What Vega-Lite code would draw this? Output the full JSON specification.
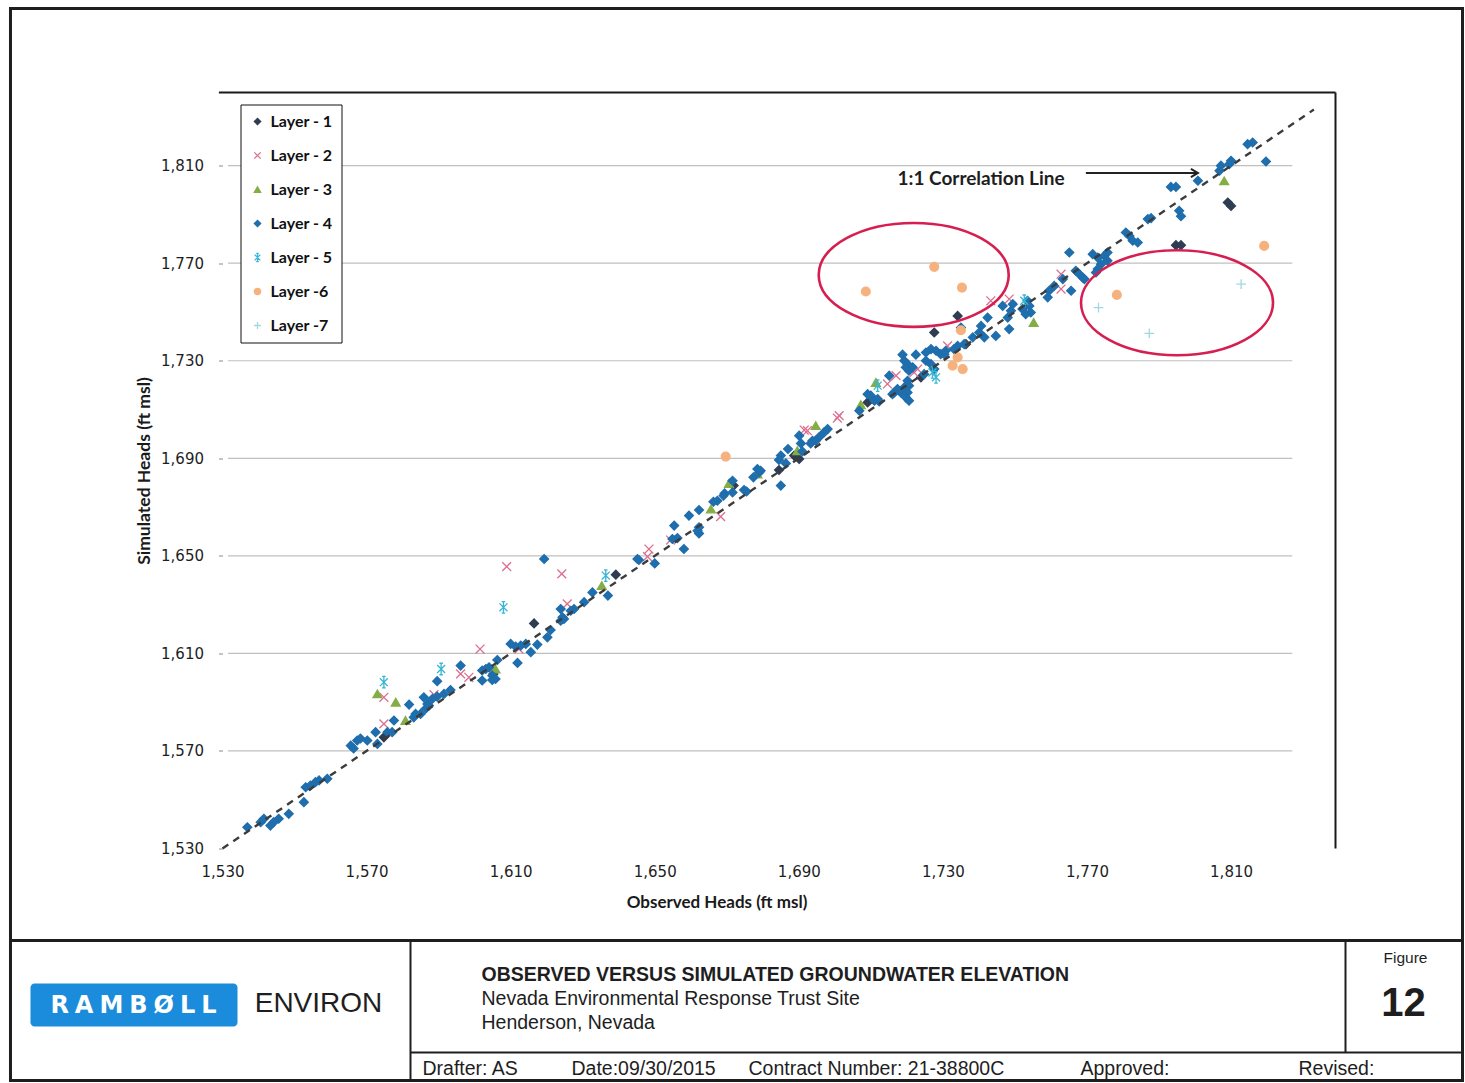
{
  "$schema": "https://vega.github.io/schema/vega-lite/v6.json",
  "width": 1113,
  "height": 756,
  "autosize": {"type": "pad"},
  "padding": {"left": 8.5, "top": 6.5, "right": 2, "bottom": 2},
  "background": "#ffffff",
  "config": {
    "view": {"stroke": null},
    "legend": {
      "orient": "none", "legendX": 18, "legendY": 12,
      "padding": 9, "rowPadding": 18,
      "strokeColor": "#111111", "fillColor": "#ffffff",
      "labelFont": "Lato", "labelFontSize": 16, "labelFontWeight": "bold", "labelColor": "#111111",
      "labelOffset": 5, "symbolSize": 40, "symbolStrokeWidth": 1.3
    }
  },
  "datasets": {
    "gridlines": [
      {"level": 1570}, {"level": 1610}, {"level": 1650}, {"level": 1690},
      {"level": 1730}, {"level": 1770}, {"level": 1810}
    ],
    "heads": [
      {"observed": 1574.8, "simulated": 1575.6, "layer": "Layer - 1"},
      {"observed": 1616.5, "simulated": 1622.3, "layer": "Layer - 1"},
      {"observed": 1605.2, "simulated": 1601.6, "layer": "Layer - 1"},
      {"observed": 1684.5, "simulated": 1685.2, "layer": "Layer - 1"},
      {"observed": 1671.9, "simulated": 1678.8, "layer": "Layer - 1"},
      {"observed": 1639.2, "simulated": 1642.3, "layer": "Layer - 1"},
      {"observed": 1727.6, "simulated": 1741.6, "layer": "Layer - 1"},
      {"observed": 1736.4, "simulated": 1736.8, "layer": "Layer - 1"},
      {"observed": 1709.1, "simulated": 1712.9, "layer": "Layer - 1"},
      {"observed": 1723.9, "simulated": 1723.2, "layer": "Layer - 1"},
      {"observed": 1688.7, "simulated": 1691.1, "layer": "Layer - 1"},
      {"observed": 1690.1, "simulated": 1689.7, "layer": "Layer - 1"},
      {"observed": 1734.1, "simulated": 1748.4, "layer": "Layer - 1"},
      {"observed": 1794.7, "simulated": 1777.4, "layer": "Layer - 1"},
      {"observed": 1796.1, "simulated": 1777.4, "layer": "Layer - 1"},
      {"observed": 1809.1, "simulated": 1794.9, "layer": "Layer - 1"},
      {"observed": 1810.0, "simulated": 1793.5, "layer": "Layer - 1"},

      {"observed": 1574.8, "simulated": 1581.1, "layer": "Layer - 2"},
      {"observed": 1574.8, "simulated": 1592.0, "layer": "Layer - 2"},
      {"observed": 1608.9, "simulated": 1645.6, "layer": "Layer - 2"},
      {"observed": 1624.2, "simulated": 1642.6, "layer": "Layer - 2"},
      {"observed": 1625.7, "simulated": 1630.3, "layer": "Layer - 2"},
      {"observed": 1601.5, "simulated": 1611.8, "layer": "Layer - 2"},
      {"observed": 1612.3, "simulated": 1611.8, "layer": "Layer - 2"},
      {"observed": 1596.1, "simulated": 1601.6, "layer": "Layer - 2"},
      {"observed": 1598.4, "simulated": 1600.2, "layer": "Layer - 2"},
      {"observed": 1588.7, "simulated": 1593.1, "layer": "Layer - 2"},
      {"observed": 1668.3, "simulated": 1666.1, "layer": "Layer - 2"},
      {"observed": 1654.4, "simulated": 1656.5, "layer": "Layer - 2"},
      {"observed": 1648.4, "simulated": 1652.8, "layer": "Layer - 2"},
      {"observed": 1648.0, "simulated": 1649.7, "layer": "Layer - 2"},
      {"observed": 1731.3, "simulated": 1736.1, "layer": "Layer - 2"},
      {"observed": 1722.0, "simulated": 1725.2, "layer": "Layer - 2"},
      {"observed": 1723.0, "simulated": 1726.6, "layer": "Layer - 2"},
      {"observed": 1717.0, "simulated": 1723.9, "layer": "Layer - 2"},
      {"observed": 1714.6, "simulated": 1720.5, "layer": "Layer - 2"},
      {"observed": 1701.2, "simulated": 1707.5, "layer": "Layer - 2"},
      {"observed": 1700.7, "simulated": 1706.5, "layer": "Layer - 2"},
      {"observed": 1692.4, "simulated": 1701.3, "layer": "Layer - 2"},
      {"observed": 1691.5, "simulated": 1701.6, "layer": "Layer - 2"},
      {"observed": 1762.8, "simulated": 1765.5, "layer": "Layer - 2"},
      {"observed": 1762.8, "simulated": 1759.4, "layer": "Layer - 2"},
      {"observed": 1748.4, "simulated": 1755.3, "layer": "Layer - 2"},
      {"observed": 1743.3, "simulated": 1754.6, "layer": "Layer - 2"},

      {"observed": 1573.0, "simulated": 1593.4, "layer": "Layer - 3"},
      {"observed": 1578.1, "simulated": 1590.0, "layer": "Layer - 3"},
      {"observed": 1580.8, "simulated": 1582.5, "layer": "Layer - 3"},
      {"observed": 1635.3, "simulated": 1637.8, "layer": "Layer - 3"},
      {"observed": 1605.8, "simulated": 1603.6, "layer": "Layer - 3"},
      {"observed": 1678.5, "simulated": 1683.6, "layer": "Layer - 3"},
      {"observed": 1670.6, "simulated": 1679.7, "layer": "Layer - 3"},
      {"observed": 1665.6, "simulated": 1669.2, "layer": "Layer - 3"},
      {"observed": 1711.4, "simulated": 1721.1, "layer": "Layer - 3"},
      {"observed": 1707.2, "simulated": 1712.0, "layer": "Layer - 3"},
      {"observed": 1694.7, "simulated": 1703.4, "layer": "Layer - 3"},
      {"observed": 1689.6, "simulated": 1693.1, "layer": "Layer - 3"},
      {"observed": 1755.2, "simulated": 1745.7, "layer": "Layer - 3"},
      {"observed": 1808.1, "simulated": 1803.8, "layer": "Layer - 3"},

      {"observed": 1536.9, "simulated": 1538.7, "layer": "Layer - 4"},
      {"observed": 1540.6, "simulated": 1540.8, "layer": "Layer - 4"},
      {"observed": 1541.5, "simulated": 1542.2, "layer": "Layer - 4"},
      {"observed": 1543.3, "simulated": 1539.4, "layer": "Layer - 4"},
      {"observed": 1544.2, "simulated": 1540.8, "layer": "Layer - 4"},
      {"observed": 1545.6, "simulated": 1542.2, "layer": "Layer - 4"},
      {"observed": 1548.4, "simulated": 1544.2, "layer": "Layer - 4"},
      {"observed": 1552.6, "simulated": 1549.0, "layer": "Layer - 4"},
      {"observed": 1553.1, "simulated": 1555.1, "layer": "Layer - 4"},
      {"observed": 1554.4, "simulated": 1555.8, "layer": "Layer - 4"},
      {"observed": 1555.8, "simulated": 1557.2, "layer": "Layer - 4"},
      {"observed": 1556.8, "simulated": 1557.9, "layer": "Layer - 4"},
      {"observed": 1559.1, "simulated": 1558.6, "layer": "Layer - 4"},
      {"observed": 1565.6, "simulated": 1572.2, "layer": "Layer - 4"},
      {"observed": 1566.4, "simulated": 1571.0, "layer": "Layer - 4"},
      {"observed": 1567.4, "simulated": 1574.3, "layer": "Layer - 4"},
      {"observed": 1568.3, "simulated": 1575.1, "layer": "Layer - 4"},
      {"observed": 1570.2, "simulated": 1574.3, "layer": "Layer - 4"},
      {"observed": 1572.5, "simulated": 1577.7, "layer": "Layer - 4"},
      {"observed": 1573.0, "simulated": 1572.9, "layer": "Layer - 4"},
      {"observed": 1575.8, "simulated": 1577.7, "layer": "Layer - 4"},
      {"observed": 1577.1, "simulated": 1577.7, "layer": "Layer - 4"},
      {"observed": 1577.6, "simulated": 1582.5, "layer": "Layer - 4"},
      {"observed": 1581.8, "simulated": 1589.0, "layer": "Layer - 4"},
      {"observed": 1583.1, "simulated": 1583.8, "layer": "Layer - 4"},
      {"observed": 1585.0, "simulated": 1585.2, "layer": "Layer - 4"},
      {"observed": 1586.4, "simulated": 1587.3, "layer": "Layer - 4"},
      {"observed": 1585.9, "simulated": 1592.0, "layer": "Layer - 4"},
      {"observed": 1587.3, "simulated": 1588.6, "layer": "Layer - 4"},
      {"observed": 1619.3, "simulated": 1648.7, "layer": "Layer - 4"},
      {"observed": 1637.0, "simulated": 1633.7, "layer": "Layer - 4"},
      {"observed": 1632.7, "simulated": 1635.0, "layer": "Layer - 4"},
      {"observed": 1630.4, "simulated": 1631.0, "layer": "Layer - 4"},
      {"observed": 1627.6, "simulated": 1628.2, "layer": "Layer - 4"},
      {"observed": 1626.7, "simulated": 1627.5, "layer": "Layer - 4"},
      {"observed": 1623.9, "simulated": 1628.2, "layer": "Layer - 4"},
      {"observed": 1624.4, "simulated": 1624.8, "layer": "Layer - 4"},
      {"observed": 1624.8, "simulated": 1624.1, "layer": "Layer - 4"},
      {"observed": 1623.9, "simulated": 1623.4, "layer": "Layer - 4"},
      {"observed": 1621.1, "simulated": 1619.6, "layer": "Layer - 4"},
      {"observed": 1620.2, "simulated": 1616.6, "layer": "Layer - 4"},
      {"observed": 1617.4, "simulated": 1613.6, "layer": "Layer - 4"},
      {"observed": 1615.6, "simulated": 1610.5, "layer": "Layer - 4"},
      {"observed": 1610.0, "simulated": 1613.9, "layer": "Layer - 4"},
      {"observed": 1611.4, "simulated": 1612.8, "layer": "Layer - 4"},
      {"observed": 1612.8, "simulated": 1613.2, "layer": "Layer - 4"},
      {"observed": 1614.2, "simulated": 1613.9, "layer": "Layer - 4"},
      {"observed": 1606.3, "simulated": 1607.3, "layer": "Layer - 4"},
      {"observed": 1604.0, "simulated": 1604.3, "layer": "Layer - 4"},
      {"observed": 1603.1, "simulated": 1603.6, "layer": "Layer - 4"},
      {"observed": 1602.1, "simulated": 1603.0, "layer": "Layer - 4"},
      {"observed": 1611.9, "simulated": 1606.1, "layer": "Layer - 4"},
      {"observed": 1604.9, "simulated": 1600.9, "layer": "Layer - 4"},
      {"observed": 1605.8, "simulated": 1599.5, "layer": "Layer - 4"},
      {"observed": 1604.9, "simulated": 1599.1, "layer": "Layer - 4"},
      {"observed": 1602.1, "simulated": 1598.9, "layer": "Layer - 4"},
      {"observed": 1596.1, "simulated": 1605.0, "layer": "Layer - 4"},
      {"observed": 1589.6, "simulated": 1598.6, "layer": "Layer - 4"},
      {"observed": 1593.3, "simulated": 1595.0, "layer": "Layer - 4"},
      {"observed": 1591.5, "simulated": 1593.4, "layer": "Layer - 4"},
      {"observed": 1589.6, "simulated": 1592.3, "layer": "Layer - 4"},
      {"observed": 1588.3, "simulated": 1591.4, "layer": "Layer - 4"},
      {"observed": 1586.9, "simulated": 1589.3, "layer": "Layer - 4"},
      {"observed": 1583.6, "simulated": 1585.2, "layer": "Layer - 4"},
      {"observed": 1687.0, "simulated": 1693.8, "layer": "Layer - 4"},
      {"observed": 1685.0, "simulated": 1691.1, "layer": "Layer - 4"},
      {"observed": 1684.5, "simulated": 1689.3, "layer": "Layer - 4"},
      {"observed": 1686.4, "simulated": 1687.9, "layer": "Layer - 4"},
      {"observed": 1685.0, "simulated": 1678.8, "layer": "Layer - 4"},
      {"observed": 1678.5, "simulated": 1685.6, "layer": "Layer - 4"},
      {"observed": 1679.0, "simulated": 1684.2, "layer": "Layer - 4"},
      {"observed": 1677.4, "simulated": 1682.2, "layer": "Layer - 4"},
      {"observed": 1674.8, "simulated": 1677.0, "layer": "Layer - 4"},
      {"observed": 1675.5, "simulated": 1676.4, "layer": "Layer - 4"},
      {"observed": 1671.6, "simulated": 1680.8, "layer": "Layer - 4"},
      {"observed": 1669.4, "simulated": 1675.6, "layer": "Layer - 4"},
      {"observed": 1669.1, "simulated": 1674.7, "layer": "Layer - 4"},
      {"observed": 1667.4, "simulated": 1672.6, "layer": "Layer - 4"},
      {"observed": 1666.3, "simulated": 1672.2, "layer": "Layer - 4"},
      {"observed": 1671.6, "simulated": 1676.0, "layer": "Layer - 4"},
      {"observed": 1662.3, "simulated": 1668.8, "layer": "Layer - 4"},
      {"observed": 1659.5, "simulated": 1666.5, "layer": "Layer - 4"},
      {"observed": 1662.3, "simulated": 1661.7, "layer": "Layer - 4"},
      {"observed": 1662.3, "simulated": 1659.2, "layer": "Layer - 4"},
      {"observed": 1661.9, "simulated": 1660.3, "layer": "Layer - 4"},
      {"observed": 1655.4, "simulated": 1662.4, "layer": "Layer - 4"},
      {"observed": 1656.3, "simulated": 1657.3, "layer": "Layer - 4"},
      {"observed": 1654.9, "simulated": 1656.9, "layer": "Layer - 4"},
      {"observed": 1658.1, "simulated": 1652.8, "layer": "Layer - 4"},
      {"observed": 1645.6, "simulated": 1648.3, "layer": "Layer - 4"},
      {"observed": 1645.2, "simulated": 1648.7, "layer": "Layer - 4"},
      {"observed": 1650.0, "simulated": 1646.9, "layer": "Layer - 4"},
      {"observed": 1733.6, "simulated": 1734.8, "layer": "Layer - 4"},
      {"observed": 1718.8, "simulated": 1732.5, "layer": "Layer - 4"},
      {"observed": 1722.5, "simulated": 1732.5, "layer": "Layer - 4"},
      {"observed": 1725.3, "simulated": 1733.4, "layer": "Layer - 4"},
      {"observed": 1726.7, "simulated": 1734.8, "layer": "Layer - 4"},
      {"observed": 1728.1, "simulated": 1734.1, "layer": "Layer - 4"},
      {"observed": 1729.4, "simulated": 1732.7, "layer": "Layer - 4"},
      {"observed": 1719.3, "simulated": 1730.0, "layer": "Layer - 4"},
      {"observed": 1720.2, "simulated": 1728.6, "layer": "Layer - 4"},
      {"observed": 1719.7, "simulated": 1727.3, "layer": "Layer - 4"},
      {"observed": 1720.6, "simulated": 1725.9, "layer": "Layer - 4"},
      {"observed": 1721.6, "simulated": 1727.3, "layer": "Layer - 4"},
      {"observed": 1725.3, "simulated": 1730.0, "layer": "Layer - 4"},
      {"observed": 1726.7, "simulated": 1728.6, "layer": "Layer - 4"},
      {"observed": 1727.6, "simulated": 1726.6, "layer": "Layer - 4"},
      {"observed": 1724.8, "simulated": 1724.5, "layer": "Layer - 4"},
      {"observed": 1720.2, "simulated": 1721.8, "layer": "Layer - 4"},
      {"observed": 1720.6, "simulated": 1719.8, "layer": "Layer - 4"},
      {"observed": 1719.3, "simulated": 1719.1, "layer": "Layer - 4"},
      {"observed": 1720.2, "simulated": 1717.0, "layer": "Layer - 4"},
      {"observed": 1719.7, "simulated": 1715.0, "layer": "Layer - 4"},
      {"observed": 1720.6, "simulated": 1713.6, "layer": "Layer - 4"},
      {"observed": 1717.4, "simulated": 1718.4, "layer": "Layer - 4"},
      {"observed": 1716.5, "simulated": 1717.0, "layer": "Layer - 4"},
      {"observed": 1716.0, "simulated": 1716.3, "layer": "Layer - 4"},
      {"observed": 1718.3, "simulated": 1717.0, "layer": "Layer - 4"},
      {"observed": 1715.1, "simulated": 1723.9, "layer": "Layer - 4"},
      {"observed": 1709.1, "simulated": 1716.3, "layer": "Layer - 4"},
      {"observed": 1710.0, "simulated": 1715.7, "layer": "Layer - 4"},
      {"observed": 1711.0, "simulated": 1713.6, "layer": "Layer - 4"},
      {"observed": 1712.3, "simulated": 1713.3, "layer": "Layer - 4"},
      {"observed": 1711.9, "simulated": 1714.3, "layer": "Layer - 4"},
      {"observed": 1706.8, "simulated": 1709.5, "layer": "Layer - 4"},
      {"observed": 1698.0, "simulated": 1702.0, "layer": "Layer - 4"},
      {"observed": 1697.0, "simulated": 1700.6, "layer": "Layer - 4"},
      {"observed": 1695.6, "simulated": 1698.6, "layer": "Layer - 4"},
      {"observed": 1694.7, "simulated": 1697.2, "layer": "Layer - 4"},
      {"observed": 1690.1, "simulated": 1699.3, "layer": "Layer - 4"},
      {"observed": 1690.6, "simulated": 1696.1, "layer": "Layer - 4"},
      {"observed": 1693.8, "simulated": 1697.2, "layer": "Layer - 4"},
      {"observed": 1693.3, "simulated": 1696.1, "layer": "Layer - 4"},
      {"observed": 1691.0, "simulated": 1692.8, "layer": "Layer - 4"},
      {"observed": 1679.4, "simulated": 1684.9, "layer": "Layer - 4"},
      {"observed": 1765.1, "simulated": 1774.4, "layer": "Layer - 4"},
      {"observed": 1771.6, "simulated": 1773.7, "layer": "Layer - 4"},
      {"observed": 1773.0, "simulated": 1772.3, "layer": "Layer - 4"},
      {"observed": 1774.8, "simulated": 1773.0, "layer": "Layer - 4"},
      {"observed": 1775.7, "simulated": 1774.4, "layer": "Layer - 4"},
      {"observed": 1773.9, "simulated": 1769.6, "layer": "Layer - 4"},
      {"observed": 1773.0, "simulated": 1767.6, "layer": "Layer - 4"},
      {"observed": 1772.5, "simulated": 1766.2, "layer": "Layer - 4"},
      {"observed": 1775.7, "simulated": 1771.0, "layer": "Layer - 4"},
      {"observed": 1780.8, "simulated": 1782.6, "layer": "Layer - 4"},
      {"observed": 1781.8, "simulated": 1781.2, "layer": "Layer - 4"},
      {"observed": 1782.7, "simulated": 1779.2, "layer": "Layer - 4"},
      {"observed": 1784.1, "simulated": 1778.5, "layer": "Layer - 4"},
      {"observed": 1766.9, "simulated": 1766.9, "layer": "Layer - 4"},
      {"observed": 1767.9, "simulated": 1765.5, "layer": "Layer - 4"},
      {"observed": 1768.8, "simulated": 1764.1, "layer": "Layer - 4"},
      {"observed": 1769.3, "simulated": 1763.5, "layer": "Layer - 4"},
      {"observed": 1763.3, "simulated": 1763.5, "layer": "Layer - 4"},
      {"observed": 1765.6, "simulated": 1758.7, "layer": "Layer - 4"},
      {"observed": 1760.9, "simulated": 1760.7, "layer": "Layer - 4"},
      {"observed": 1759.5, "simulated": 1758.7, "layer": "Layer - 4"},
      {"observed": 1759.1, "simulated": 1756.0, "layer": "Layer - 4"},
      {"observed": 1753.5, "simulated": 1754.6, "layer": "Layer - 4"},
      {"observed": 1754.0, "simulated": 1752.5, "layer": "Layer - 4"},
      {"observed": 1754.4, "simulated": 1749.8, "layer": "Layer - 4"},
      {"observed": 1753.0, "simulated": 1749.1, "layer": "Layer - 4"},
      {"observed": 1752.1, "simulated": 1751.2, "layer": "Layer - 4"},
      {"observed": 1749.4, "simulated": 1753.2, "layer": "Layer - 4"},
      {"observed": 1748.9, "simulated": 1750.5, "layer": "Layer - 4"},
      {"observed": 1748.0, "simulated": 1747.7, "layer": "Layer - 4"},
      {"observed": 1748.4, "simulated": 1743.0, "layer": "Layer - 4"},
      {"observed": 1746.6, "simulated": 1752.5, "layer": "Layer - 4"},
      {"observed": 1744.7, "simulated": 1740.2, "layer": "Layer - 4"},
      {"observed": 1742.4, "simulated": 1747.7, "layer": "Layer - 4"},
      {"observed": 1740.6, "simulated": 1744.3, "layer": "Layer - 4"},
      {"observed": 1740.1, "simulated": 1741.6, "layer": "Layer - 4"},
      {"observed": 1741.5, "simulated": 1739.6, "layer": "Layer - 4"},
      {"observed": 1738.3, "simulated": 1739.6, "layer": "Layer - 4"},
      {"observed": 1735.9, "simulated": 1736.8, "layer": "Layer - 4"},
      {"observed": 1734.1, "simulated": 1736.1, "layer": "Layer - 4"},
      {"observed": 1733.1, "simulated": 1734.8, "layer": "Layer - 4"},
      {"observed": 1730.8, "simulated": 1734.1, "layer": "Layer - 4"},
      {"observed": 1730.4, "simulated": 1732.7, "layer": "Layer - 4"},
      {"observed": 1735.0, "simulated": 1743.6, "layer": "Layer - 4"},
      {"observed": 1793.3, "simulated": 1801.3, "layer": "Layer - 4"},
      {"observed": 1794.7, "simulated": 1801.3, "layer": "Layer - 4"},
      {"observed": 1795.6, "simulated": 1791.5, "layer": "Layer - 4"},
      {"observed": 1796.1, "simulated": 1789.3, "layer": "Layer - 4"},
      {"observed": 1786.9, "simulated": 1788.1, "layer": "Layer - 4"},
      {"observed": 1787.8, "simulated": 1788.5, "layer": "Layer - 4"},
      {"observed": 1800.8, "simulated": 1803.8, "layer": "Layer - 4"},
      {"observed": 1806.8, "simulated": 1807.9, "layer": "Layer - 4"},
      {"observed": 1807.2, "simulated": 1810.0, "layer": "Layer - 4"},
      {"observed": 1809.5, "simulated": 1810.6, "layer": "Layer - 4"},
      {"observed": 1810.0, "simulated": 1812.0, "layer": "Layer - 4"},
      {"observed": 1819.7, "simulated": 1811.7, "layer": "Layer - 4"},
      {"observed": 1814.6, "simulated": 1818.8, "layer": "Layer - 4"},
      {"observed": 1816.0, "simulated": 1819.5, "layer": "Layer - 4"},

      {"observed": 1574.8, "simulated": 1598.2, "layer": "Layer - 5"},
      {"observed": 1608.0, "simulated": 1628.9, "layer": "Layer - 5"},
      {"observed": 1636.4, "simulated": 1641.9, "layer": "Layer - 5"},
      {"observed": 1590.7, "simulated": 1603.6, "layer": "Layer - 5"},
      {"observed": 1727.1, "simulated": 1725.2, "layer": "Layer - 5"},
      {"observed": 1728.1, "simulated": 1723.2, "layer": "Layer - 5"},
      {"observed": 1711.9, "simulated": 1719.8, "layer": "Layer - 5"},
      {"observed": 1752.6, "simulated": 1754.6, "layer": "Layer - 5"},

      {"observed": 1669.7, "simulated": 1690.7, "layer": "Layer -6"},
      {"observed": 1732.7, "simulated": 1728.0, "layer": "Layer -6"},
      {"observed": 1735.5, "simulated": 1726.6, "layer": "Layer -6"},
      {"observed": 1734.1, "simulated": 1731.4, "layer": "Layer -6"},
      {"observed": 1735.0, "simulated": 1742.5, "layer": "Layer -6"},
      {"observed": 1727.6, "simulated": 1768.5, "layer": "Layer -6"},
      {"observed": 1708.6, "simulated": 1758.4, "layer": "Layer -6"},
      {"observed": 1735.3, "simulated": 1760.0, "layer": "Layer -6"},
      {"observed": 1778.3, "simulated": 1757.0, "layer": "Layer -6"},
      {"observed": 1819.2, "simulated": 1777.1, "layer": "Layer -6"},

      {"observed": 1773.2, "simulated": 1751.8, "layer": "Layer -7"},
      {"observed": 1787.3, "simulated": 1741.2, "layer": "Layer -7"},
      {"observed": 1812.8, "simulated": 1761.4, "layer": "Layer -7"}
    ]
  },
  "layer": [
    {
      "layer": [
        {
          "description": "Horizontal gridlines at the labelled head levels",
          "data": {"name": "gridlines"},
          "mark": {"type": "rule", "color": "#c0c0c0", "strokeWidth": 1.2},
          "encoding": {
            "y": {"field": "level", "type": "quantitative", "scale": {"domain": [1530, 1840], "nice": false, "zero": false}},
            "x": {"datum": 1531.5, "type": "quantitative", "scale": {"domain": [1530, 1839], "nice": false, "zero": false}},
            "x2": {"datum": 1827}
          }
        },
        {
          "description": "Observed versus simulated heads, one point per target",
          "data": {"name": "heads"},
          "mark": {"type": "point", "filled": true, "size": 78, "strokeWidth": 1.3, "opacity": 1},
          "encoding": {
            "x": {
              "field": "observed", "type": "quantitative",
              "scale": {"domain": [1530, 1839], "nice": false, "zero": false},
              "axis": {
                "title": "Observed Heads (ft msl)",
                "values": [1530, 1570, 1610, 1650, 1690, 1730, 1770, 1810],
                "format": ",d", "grid": false, "domain": false, "ticks": false,
                "labelFlush": false, "labelOverlap": false,
                "labelFont": "DejaVu Sans", "labelFontSize": 15, "labelColor": "#1e1e1e", "labelPadding": 16,
                "titleFont": "Lato", "titleFontSize": 17, "titleFontWeight": "bold", "titleColor": "#1a1a1a",
                "titlePadding": 15, "titleX": 494
              }
            },
            "y": {
              "field": "simulated", "type": "quantitative",
              "scale": {"domain": [1530, 1840], "nice": false, "zero": false},
              "axis": {
                "title": "Simulated Heads (ft msl)",
                "values": [1530, 1570, 1610, 1650, 1690, 1730, 1770, 1810],
                "format": ",d", "grid": false, "domain": false,
                "ticks": true, "tickSize": 4, "tickColor": "#8a8a8a",
                "labelOverlap": false,
                "labelFont": "DejaVu Sans", "labelFontSize": 15, "labelColor": "#1e1e1e", "labelPadding": 15,
                "titleFont": "Lato", "titleFontSize": 17.5, "titleFontWeight": "bold", "titleColor": "#1a1a1a",
                "titlePadding": 7
              }
            },
            "color": {
              "field": "layer", "type": "nominal",
              "scale": {
                "domain": ["Layer - 1", "Layer - 2", "Layer - 3", "Layer - 4", "Layer - 5", "Layer -6", "Layer -7"],
                "range": ["#2f3d52", "#dc6f8f", "#84ae45", "#1f6ead", "#36b6d3", "#f6b27e", "#a3d7e3"]
              },
              "legend": {"title": null}
            },
            "stroke": {
              "field": "layer", "type": "nominal",
              "scale": {
                "domain": ["Layer - 1", "Layer - 2", "Layer - 3", "Layer - 4", "Layer - 5", "Layer -6", "Layer -7"],
                "range": ["#2f3d52", "#dc6f8f", "#84ae45", "#1f6ead", "#36b6d3", "#f6b27e", "#a3d7e3"]
              },
              "legend": {"title": null}
            },
            "shape": {
              "field": "layer", "type": "nominal",
              "scale": {
                "domain": ["Layer - 1", "Layer - 2", "Layer - 3", "Layer - 4", "Layer - 5", "Layer -6", "Layer -7"],
                "range": [
                  "diamond",
                  "M-1,-1L1,1M-1,1L1,-1",
                  "triangle-up",
                  "diamond",
                  "M0,-1.3L0,1.3M-0.9,-0.9L0.9,0.9M-0.9,0.9L0.9,-0.9M-0.4,-1.3L0.4,-1.3M-0.4,1.3L0.4,1.3",
                  "circle",
                  "M-1.1,0L1.1,0M0,-1.1L0,1.1"
                ]
              },
              "legend": {"title": null}
            }
          }
        },
        {
          "description": "1:1 correlation line",
          "data": {"values": [{}]},
          "mark": {"type": "rule", "color": "#3c3c3c", "strokeWidth": 2.4, "strokeDash": [7, 6]},
          "encoding": {
            "x": {"datum": 1530, "type": "quantitative", "scale": {"domain": [1530, 1839], "nice": false, "zero": false}},
            "y": {"datum": 1530, "type": "quantitative", "scale": {"domain": [1530, 1840], "nice": false, "zero": false}},
            "x2": {"datum": 1833},
            "y2": {"datum": 1833}
          }
        },
        {
          "description": "Plot frame, top edge",
          "data": {"values": [{}]},
          "mark": {"type": "rule", "color": "#1a1a1a", "strokeWidth": 2},
          "encoding": {
            "x": {"datum": 1529, "type": "quantitative", "scale": {"domain": [1530, 1839], "nice": false, "zero": false}},
            "x2": {"datum": 1839},
            "y": {"datum": 1840, "type": "quantitative", "scale": {"domain": [1530, 1840], "nice": false, "zero": false}}
          }
        },
        {
          "description": "Plot frame, right edge",
          "data": {"values": [{}]},
          "mark": {"type": "rule", "color": "#1a1a1a", "strokeWidth": 2},
          "encoding": {
            "x": {"datum": 1839, "type": "quantitative", "scale": {"domain": [1530, 1839], "nice": false, "zero": false}},
            "y": {"datum": 1530, "type": "quantitative", "scale": {"domain": [1530, 1840], "nice": false, "zero": false}},
            "y2": {"datum": 1840}
          }
        },
        {
          "description": "Outlier group ringed on the left",
          "data": {"values": [{}]},
          "mark": {
            "type": "point", "filled": false, "stroke": "#d61f50", "strokeWidth": 2.6, "size": 36100, "opacity": 1,
            "shape": "M1,0C1,0.302,0.552,0.547,0,0.547C-0.552,0.547,-1,0.302,-1,0C-1,-0.302,-0.552,-0.547,0,-0.547C0.552,-0.547,1,-0.302,1,0Z"
          },
          "encoding": {
            "x": {"datum": 1721.9, "type": "quantitative", "scale": {"domain": [1530, 1839], "nice": false, "zero": false}},
            "y": {"datum": 1765.2, "type": "quantitative", "scale": {"domain": [1530, 1840], "nice": false, "zero": false}}
          }
        },
        {
          "description": "Outlier group ringed on the right",
          "data": {"values": [{}]},
          "mark": {
            "type": "point", "filled": false, "stroke": "#d61f50", "strokeWidth": 2.6, "size": 36864, "opacity": 1,
            "shape": "M1,0C1,0.302,0.552,0.547,0,0.547C-0.552,0.547,-1,0.302,-1,0C-1,-0.302,-0.552,-0.547,0,-0.547C0.552,-0.547,1,-0.302,1,0Z"
          },
          "encoding": {
            "x": {"datum": 1795.0, "type": "quantitative", "scale": {"domain": [1530, 1839], "nice": false, "zero": false}},
            "y": {"datum": 1753.8, "type": "quantitative", "scale": {"domain": [1530, 1840], "nice": false, "zero": false}}
          }
        },
        {
          "description": "Label for the 1:1 line",
          "data": {"values": [{}]},
          "mark": {"type": "text", "text": "1:1 Correlation Line", "font": "Lato", "fontSize": 19, "fontWeight": "bold", "color": "#1e1e1e", "align": "center", "baseline": "middle"},
          "encoding": {
            "x": {"datum": 1740.6, "type": "quantitative", "scale": {"domain": [1530, 1839], "nice": false, "zero": false}},
            "y": {"datum": 1804.6, "type": "quantitative", "scale": {"domain": [1530, 1840], "nice": false, "zero": false}}
          }
        },
        {
          "description": "Arrow shaft pointing at the 1:1 line",
          "data": {"values": [{}]},
          "mark": {"type": "rule", "color": "#222222", "strokeWidth": 2},
          "encoding": {
            "x": {"datum": 1769.7, "type": "quantitative", "scale": {"domain": [1530, 1839], "nice": false, "zero": false}},
            "x2": {"datum": 1800.6},
            "y": {"datum": 1807.0, "type": "quantitative", "scale": {"domain": [1530, 1840], "nice": false, "zero": false}}
          }
        },
        {
          "description": "Arrow head",
          "data": {"values": [{}]},
          "mark": {"type": "point", "filled": false, "stroke": "#222222", "strokeWidth": 2, "size": 196, "opacity": 1, "shape": "M-1,-0.6L0,0L-1,0.6"},
          "encoding": {
            "x": {"datum": 1800.8, "type": "quantitative", "scale": {"domain": [1530, 1839], "nice": false, "zero": false}},
            "y": {"datum": 1807.0, "type": "quantitative", "scale": {"domain": [1530, 1840], "nice": false, "zero": false}}
          }
        }
      ]
    },
    {
      "description": "Drawing sheet: border and title block, placed on a 0-100 sheet grid",
      "layer": [
        {
          "data": {"values": [{}]},
          "mark": {"type": "rect", "filled": false, "stroke": "#1e1e1e", "strokeWidth": 3},
          "encoding": {
            "x": {"datum": 0, "type": "quantitative", "scale": {"domain": [14.601, 91.253], "nice": false, "zero": false}, "axis": null},
            "x2": {"datum": 100},
            "y": {"datum": 0, "type": "quantitative", "scale": {"domain": [21.642, 92.164], "nice": false, "zero": false}, "axis": null},
            "y2": {"datum": 100}
          }
        },
        {
          "data": {"values": [{}]},
          "mark": {"type": "rule", "color": "#1e1e1e", "strokeWidth": 3},
          "encoding": {
            "x": {"datum": 0, "type": "quantitative", "scale": {"domain": [14.601, 91.253], "nice": false, "zero": false}, "axis": null},
            "x2": {"datum": 100},
            "y": {"datum": 13.06, "type": "quantitative", "scale": {"domain": [21.642, 92.164], "nice": false, "zero": false}, "axis": null}
          }
        },
        {
          "data": {"values": [{}]},
          "mark": {"type": "rule", "color": "#1e1e1e", "strokeWidth": 2},
          "encoding": {
            "x": {"datum": 27.548, "type": "quantitative", "scale": {"domain": [14.601, 91.253], "nice": false, "zero": false}, "axis": null},
            "y": {"datum": 0, "type": "quantitative", "scale": {"domain": [21.642, 92.164], "nice": false, "zero": false}, "axis": null},
            "y2": {"datum": 13.06}
          }
        },
        {
          "data": {"values": [{}]},
          "mark": {"type": "rule", "color": "#1e1e1e", "strokeWidth": 2},
          "encoding": {
            "x": {"datum": 91.942, "type": "quantitative", "scale": {"domain": [14.601, 91.253], "nice": false, "zero": false}, "axis": null},
            "y": {"datum": 2.612, "type": "quantitative", "scale": {"domain": [21.642, 92.164], "nice": false, "zero": false}, "axis": null},
            "y2": {"datum": 13.06}
          }
        },
        {
          "data": {"values": [{}]},
          "mark": {"type": "rule", "color": "#1e1e1e", "strokeWidth": 2},
          "encoding": {
            "x": {"datum": 27.548, "type": "quantitative", "scale": {"domain": [14.601, 91.253], "nice": false, "zero": false}, "axis": null},
            "x2": {"datum": 100},
            "y": {"datum": 2.612, "type": "quantitative", "scale": {"domain": [21.642, 92.164], "nice": false, "zero": false}, "axis": null}
          }
        },
        {
          "data": {"values": [{}]},
          "mark": {"type": "rect", "color": "#1b8cdb", "cornerRadius": 4},
          "encoding": {
            "x": {"datum": 1.377, "type": "quantitative", "scale": {"domain": [14.601, 91.253], "nice": false, "zero": false}, "axis": null},
            "x2": {"datum": 15.634},
            "y": {"datum": 5.037, "type": "quantitative", "scale": {"domain": [21.642, 92.164], "nice": false, "zero": false}, "axis": null},
            "y2": {"datum": 9.049}
          }
        },
        {
          "data": {"values": [{}]},
          "mark": {"type": "text", "text": "R\u2005A\u2005M\u2005B\u2005Ø\u2005L\u2005L", "font": "DejaVu Sans", "fontSize": 24, "fontWeight": "bold", "color": "#ffffff", "align": "center", "baseline": "middle"},
          "encoding": {
            "x": {"datum": 8.471, "type": "quantitative", "scale": {"domain": [14.601, 91.253], "nice": false, "zero": false}, "axis": null},
            "y": {"datum": 6.996, "type": "quantitative", "scale": {"domain": [21.642, 92.164], "nice": false, "zero": false}, "axis": null}
          }
        },
        {
          "data": {"values": [{}]},
          "mark": {"type": "text", "text": "ENVIRON", "font": "Liberation Sans", "fontSize": 28, "color": "#1e1e1e", "align": "center", "baseline": "middle"},
          "encoding": {
            "x": {"datum": 21.212, "type": "quantitative", "scale": {"domain": [14.601, 91.253], "nice": false, "zero": false}, "axis": null},
            "y": {"datum": 7.09, "type": "quantitative", "scale": {"domain": [21.642, 92.164], "nice": false, "zero": false}, "axis": null}
          }
        },
        {
          "data": {"values": [{}]},
          "mark": {"type": "text", "text": "OBSERVED VERSUS SIMULATED GROUNDWATER ELEVATION", "font": "Liberation Sans", "fontSize": 19.5, "fontWeight": "bold", "color": "#1e1e1e", "align": "left", "baseline": "middle"},
          "encoding": {
            "x": {"datum": 32.438, "type": "quantitative", "scale": {"domain": [14.601, 91.253], "nice": false, "zero": false}, "axis": null},
            "y": {"datum": 9.888, "type": "quantitative", "scale": {"domain": [21.642, 92.164], "nice": false, "zero": false}, "axis": null}
          }
        },
        {
          "data": {"values": [{}]},
          "mark": {"type": "text", "text": "Nevada Environmental Response Trust Site", "font": "Liberation Sans", "fontSize": 19.5, "color": "#1e1e1e", "align": "left", "baseline": "middle"},
          "encoding": {
            "x": {"datum": 32.438, "type": "quantitative", "scale": {"domain": [14.601, 91.253], "nice": false, "zero": false}, "axis": null},
            "y": {"datum": 7.649, "type": "quantitative", "scale": {"domain": [21.642, 92.164], "nice": false, "zero": false}, "axis": null}
          }
        },
        {
          "data": {"values": [{}]},
          "mark": {"type": "text", "text": "Henderson, Nevada", "font": "Liberation Sans", "fontSize": 19.5, "color": "#1e1e1e", "align": "left", "baseline": "middle"},
          "encoding": {
            "x": {"datum": 32.438, "type": "quantitative", "scale": {"domain": [14.601, 91.253], "nice": false, "zero": false}, "axis": null},
            "y": {"datum": 5.41, "type": "quantitative", "scale": {"domain": [21.642, 92.164], "nice": false, "zero": false}, "axis": null}
          }
        },
        {
          "data": {"values": [{}]},
          "mark": {"type": "text", "text": "Figure", "font": "Liberation Sans", "fontSize": 15.5, "color": "#1e1e1e", "align": "center", "baseline": "middle"},
          "encoding": {
            "x": {"datum": 96.07, "type": "quantitative", "scale": {"domain": [14.601, 91.253], "nice": false, "zero": false}, "axis": null},
            "y": {"datum": 11.474, "type": "quantitative", "scale": {"domain": [21.642, 92.164], "nice": false, "zero": false}, "axis": null}
          }
        },
        {
          "data": {"values": [{}]},
          "mark": {"type": "text", "text": "12", "font": "Liberation Sans", "fontSize": 40, "fontWeight": "bold", "color": "#1e1e1e", "align": "center", "baseline": "middle"},
          "encoding": {
            "x": {"datum": 95.936, "type": "quantitative", "scale": {"domain": [14.601, 91.253], "nice": false, "zero": false}, "axis": null},
            "y": {"datum": 7.183, "type": "quantitative", "scale": {"domain": [21.642, 92.164], "nice": false, "zero": false}, "axis": null}
          }
        },
        {
          "data": {"values": [{}]},
          "mark": {"type": "text", "text": "Drafter: AS", "font": "Liberation Sans", "fontSize": 19.5, "color": "#1e1e1e", "align": "left", "baseline": "middle"},
          "encoding": {
            "x": {"datum": 28.375, "type": "quantitative", "scale": {"domain": [14.601, 91.253], "nice": false, "zero": false}, "axis": null},
            "y": {"datum": 1.119, "type": "quantitative", "scale": {"domain": [21.642, 92.164], "nice": false, "zero": false}, "axis": null}
          }
        },
        {
          "data": {"values": [{}]},
          "mark": {"type": "text", "text": "Date:09/30/2015", "font": "Liberation Sans", "fontSize": 19.5, "color": "#1e1e1e", "align": "left", "baseline": "middle"},
          "encoding": {
            "x": {"datum": 38.636, "type": "quantitative", "scale": {"domain": [14.601, 91.253], "nice": false, "zero": false}, "axis": null},
            "y": {"datum": 1.119, "type": "quantitative", "scale": {"domain": [21.642, 92.164], "nice": false, "zero": false}, "axis": null}
          }
        },
        {
          "data": {"values": [{}]},
          "mark": {"type": "text", "text": "Contract Number: 21-38800C", "font": "Liberation Sans", "fontSize": 19.5, "color": "#1e1e1e", "align": "left", "baseline": "middle"},
          "encoding": {
            "x": {"datum": 50.826, "type": "quantitative", "scale": {"domain": [14.601, 91.253], "nice": false, "zero": false}, "axis": null},
            "y": {"datum": 1.119, "type": "quantitative", "scale": {"domain": [21.642, 92.164], "nice": false, "zero": false}, "axis": null}
          }
        },
        {
          "data": {"values": [{}]},
          "mark": {"type": "text", "text": "Approved:", "font": "Liberation Sans", "fontSize": 19.5, "color": "#1e1e1e", "align": "left", "baseline": "middle"},
          "encoding": {
            "x": {"datum": 73.691, "type": "quantitative", "scale": {"domain": [14.601, 91.253], "nice": false, "zero": false}, "axis": null},
            "y": {"datum": 1.119, "type": "quantitative", "scale": {"domain": [21.642, 92.164], "nice": false, "zero": false}, "axis": null}
          }
        },
        {
          "data": {"values": [{}]},
          "mark": {"type": "text", "text": "Revised:", "font": "Liberation Sans", "fontSize": 19.5, "color": "#1e1e1e", "align": "left", "baseline": "middle"},
          "encoding": {
            "x": {"datum": 88.705, "type": "quantitative", "scale": {"domain": [14.601, 91.253], "nice": false, "zero": false}, "axis": null},
            "y": {"datum": 1.119, "type": "quantitative", "scale": {"domain": [21.642, 92.164], "nice": false, "zero": false}, "axis": null}
          }
        }
      ]
    }
  ],
  "resolve": {"scale": {"x": "independent", "y": "independent"}}
}
